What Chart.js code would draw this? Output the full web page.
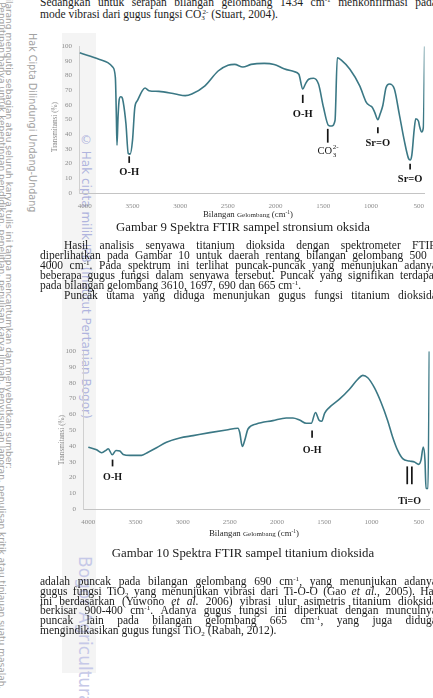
<!DOCTYPE html>
<html lang="id">
<head>
<meta charset="utf-8">
<title>Spektra FTIR</title>
<script src="https://cdn.jsdelivr.net/npm/chart.js@4.4.1/dist/chart.umd.min.js"></script>
<style>
  html, body { margin: 0; padding: 0; }
  body {
    width: 433px; height: 698px; overflow: hidden; position: relative;
    background: #fff; color: #1c1c1c;
    font-family: "Liberation Serif", "Times New Roman", serif;
  }
  .band { position: absolute; left: 62px; top: 33px; width: 34px; height: 640px; background: rgba(0,0,0,0.045); }
  .ln { position: absolute; font-size: 11.5px; line-height: 12px; height: 12px; white-space: nowrap; }
  .ln.j { display: flex; justify-content: space-between; }
  sup, sub { font-size: 0.62em; line-height: 0; position: relative; vertical-align: baseline; }
  sup { top: -0.5em; }
  sub { top: 0.3em; }
  .cap { position: absolute; font-size: 12.8px; white-space: nowrap; transform: translate(-50%, -50%); }
  .xt { position: absolute; font-size: 8.8px; color: #2a2a2a; white-space: nowrap; transform: translate(-50%, -50%); }
  .xt span { font-size: 7px; }
  .yt { position: absolute; font-size: 7.2px; color: #8a8a8a; white-space: nowrap; transform: translate(-50%, -50%) rotate(-90deg); }
  .wm { position: absolute; writing-mode: vertical-rl; white-space: nowrap; font-family: "DejaVu Sans", sans-serif; }
  .wm.g { color: #a2a2a2; font-size: 9px; line-height: 10px; }
  .wm.b { color: #b0b4de; }
  canvas { position: absolute; }
</style>
</head>
<body>
<div class="band"></div>

<div class="wm g" style="left:-3px; top:-9px;">a. Pengutipan hanya untuk kepentingan pendidikan, penelitian, penulisan karya ilmiah, penyusunan laporan, penulisan kritik atau tinjauan suatu masalah.</div>
<div class="wm g" style="left:4px; top:-20px;">1. Dilarang mengutip sebagian atau seluruh karya tulis ini tanpa mencantumkan dan menyebutkan sumber:</div>
<div class="wm g" style="left:27px; top:33px; font-size:9.6px;">Hak Cipta Dilindungi Undang-Undang</div>
<div class="wm b" style="left:80px; top:133px; font-size:12px; line-height:12px;">© Hak cipta milik IPB (Institut Pertanian Bogor)</div>
<div class="wm b" style="left:76px; top:556px; font-size:17px; line-height:18px; color:#c6c9e8;">Bogor Agricultural University</div>

<canvas id="sro" width="393" height="180" style="left:40px; top:35px;"></canvas>
<canvas id="tio" width="393" height="190" style="left:40px; top:340px;"></canvas>

<div class="yt" style="left:55px; top:127px;">Transmitansi (%)</div>
<div class="xt" style="left:248px; top:214px;">Bilangan <span>Gelombang</span> (cm<sup>-1</sup>)</div>
<div class="cap" style="left:243px; top:227px;">Gambar 9 Spektra FTIR sampel stronsium oksida</div>

<div class="yt" style="left:62px; top:440px;">Transmitansi (%)</div>
<div class="xt" style="left:254px; top:533px;">Bilangan <span>Gelombang</span> (cm<sup>-1</sup>)</div>
<div class="cap" style="left:243px; top:553px;">Gambar 10 Spektra FTIR sampel titanium dioksida</div>

<div id="text"></div>

<script>
// Gambar 9 - stronsium oksida (bilangan gelombang, transmitansi %)
const sroWave = [4052, 3845, 3758, 3707, 3679, 3669, 3662, 3651, 3638, 3624, 3610, 3596, 3568, 3544, 3524, 3499, 3475, 3448, 3396, 3368, 3327, 3223, 3050, 2947, 2878, 2740, 2602, 2498, 2429, 2343, 2257, 2119, 2015, 1912, 1808, 1756, 1715, 1688, 1653, 1602, 1550, 1498, 1446, 1412, 1377, 1353, 1308, 1221, 1118, 1049, 1014, 987, 962, 928, 904, 876, 842, 807, 755, 704, 652, 607, 590, 572, 548, 531, 503, 489, 469, 451, 437];
const sroTrans = [95.5, 91, 88.8, 85.8, 78.7, 54, 32.6, 51.7, 64, 65.6, 65.2, 61.8, 47.2, 27, 26.5, 36, 58.4, 62.9, 69.7, 71.5, 69.7, 69.2, 67.4, 66.3, 67.4, 73, 83.1, 87, 87.6, 85.8, 87.6, 88.3, 87.6, 84.7, 82.7, 80.9, 70.8, 74.2, 77.5, 78.2, 74.2, 58.4, 46.1, 45.6, 49.4, 92.1, 90.3, 84.3, 73, 61.8, 59.6, 58.4, 55.1, 49.9, 53.9, 59.6, 71.9, 74.2, 70.8, 53.9, 36, 23.6, 22.5, 25.8, 42.7, 50.6, 49, 44.9, 41.6, 44.9, 100];

// Gambar 10 - titanium dioksida
const tioWave = [4000, 3912, 3859, 3806, 3789, 3746, 3707, 3665, 3630, 3559, 3436, 3366, 3277, 3172, 3031, 2890, 2713, 2537, 2414, 2396, 2368, 2343, 2308, 2220, 2044, 1903, 1832, 1762, 1691, 1638, 1593, 1557, 1526, 1497, 1445, 1339, 1233, 1145, 1092, 1039, 969, 898, 828, 775, 722, 669, 598, 545, 500, 476, 451, 433, 422, 401, 387];
const tioTrans = [39.2, 37.5, 35.6, 37.5, 38.2, 34.4, 37.1, 36.7, 34.6, 34, 34, 36, 38.8, 42.3, 45, 46.5, 48.4, 50.1, 51.2, 48.6, 39.6, 43.4, 50.7, 53.9, 56, 57.7, 57.7, 56.4, 54.3, 54.3, 61.2, 56.4, 55.6, 60.6, 64.4, 69.6, 75.9, 82.2, 84.7, 83.2, 76.9, 67.5, 56, 45.5, 37.1, 31.9, 30.4, 29.8, 28.3, 30.8, 39.2, 30.8, 13, 13, 100];

const xTicks = [4000, 3500, 3000, 2500, 2000, 1500, 1000, 500];
const yTicks = [0, 10, 20, 30, 40, 50, 60, 70, 80, 90, 100];

// penanda gugus fungsi: bilangan gelombang, garis dari/ke (% T), posisi label (% T)
const sroMarks = [
  { text: 'O-H', bars: [3534], from: 25, to: 20.5, at: 14.2 },
  { text: 'O-H', bars: [1715], from: 66.9, to: 61.3, at: 53.9 },
  { text: 'CO', sub: '3', sup: '2-', bars: [1453], from: 43.7, to: 34.3, at: 28.6, light: true },
  { text: 'Sr=O', bars: [928], from: 44.8, to: 40.7, at: 34 },
  { text: 'Sr=O', bars: [590], from: 20, to: 16, at: 9.5 }
];
const tioMarks = [
  { text: 'O-H', bars: [3743], from: 31.3, to: 27, at: 20.3 },
  { text: 'O-H', bars: [1629], from: 49.7, to: 45.1, at: 37.1 },
  { text: 'Ti=O', bars: [621, 572], from: 27, to: 15.7, at: 4.6 }
];

const peakMarks = {
  id: 'peakMarks',
  afterDatasetsDraw(chart, args, opts) {
    const ctx = chart.ctx;
    const x = chart.scales.x, y = chart.scales.y;
    ctx.save();
    ctx.strokeStyle = '#161616';
    ctx.fillStyle = '#161616';
    ctx.lineWidth = 1.7;
    opts.marks.forEach(m => {
      m.bars.forEach(w => {
        const px = x.getPixelForValue(w);
        ctx.beginPath();
        ctx.moveTo(px, y.getPixelForValue(m.from));
        ctx.lineTo(px, y.getPixelForValue(m.to));
        ctx.stroke();
      });
      const mid = m.bars.reduce((a, b) => a + b, 0) / m.bars.length;
      const lx = x.getPixelForValue(mid);
      const ly = y.getPixelForValue(m.at);
      const weight = m.light ? '' : 'bold ';
      ctx.font = weight + opts.size + 'px "Liberation Serif"';
      ctx.textBaseline = 'middle';
      if (!m.sub) {
        ctx.textAlign = 'center';
        ctx.fillText(m.text, lx, ly);
        return;
      }
      const w1 = ctx.measureText(m.text).width;
      const small = weight + Math.round(opts.size * 0.62) + 'px "Liberation Serif"';
      ctx.font = small;
      const w2 = Math.max(ctx.measureText(m.sub).width, ctx.measureText(m.sup).width);
      const x0 = lx - (w1 + w2) / 2;
      ctx.textAlign = 'left';
      ctx.font = weight + opts.size + 'px "Liberation Serif"';
      ctx.fillText(m.text, x0, ly);
      ctx.font = small;
      ctx.fillText(m.sub, x0 + w1 + 0.5, ly + 4);
      ctx.fillText(m.sup, x0 + w1 + 0.5, ly - 4);
    });
    ctx.restore();
  }
};

function spectrum(id, waves, trans, marks, range, yWidth, xHeight, labelSize) {
  const points = waves.map((w, i) => ({ x: w, y: trans[i] }));
  return new Chart(document.getElementById(id), {
    type: 'line',
    data: {
      datasets: [{
        data: points,
        borderColor: '#3b7885',
        borderWidth: 1.6,
        pointRadius: 0,
        cubicInterpolationMode: 'monotone',
        fill: false
      }]
    },
    options: {
      responsive: false,
      animation: false,
      layout: { padding: { top: 10, right: 3, left: 0, bottom: 0 } },
      plugins: {
        legend: { display: false },
        tooltip: { enabled: false },
        peakMarks: { marks: marks, size: labelSize }
      },
      scales: {
        x: {
          type: 'linear',
          reverse: true,
          min: range[0],
          max: range[1],
          afterBuildTicks: s => { s.ticks = xTicks.map(v => ({ value: v })); },
          afterFit: s => { s.height = xHeight; },
          grid: { display: false, drawTicks: false },
          border: { display: true, color: '#c4c4c4', width: 1 },
          ticks: {
            padding: 9, color: '#8c8c8c',
            font: { family: '"Liberation Serif"', size: 7 },
            callback: v => String(v)
          }
        },
        y: {
          min: 0,
          max: 100,
          afterBuildTicks: s => { s.ticks = yTicks.map(v => ({ value: v })); },
          afterFit: s => { s.width = yWidth; },
          grid: { display: false, drawTicks: false },
          border: { display: true, color: '#d0d0d0', width: 1 },
          ticks: {
            padding: 7, color: '#8c8c8c',
            font: { family: '"Liberation Serif"', size: 7 },
            callback: v => String(v)
          }
        }
      }
    },
    plugins: [peakMarks]
  });
}

spectrum('sro', sroWave, sroTrans, sroMarks, [440, 4060], 39, 22, 10.5);
spectrum('tio', tioWave, tioTrans, tioMarks, [384, 4056], 43, 21, 10);

// teks halaman
const textLines = [
  { y: 2, left: 40, j: true, html: 'Sedangkan untuk serapan bilangan gelombang 1434 cm<sup>-1</sup> menkonfirmasi pada' },
  { y: 14, left: 40, j: false, html: 'mode vibrasi dari gugus fungsi CO<sub>3</sub><sup style="margin-left:-0.35em">2-</sup> (Stuart, 2004).' },
  { y: 245, left: 64, j: true, html: 'Hasil analisis senyawa titanium dioksida dengan spektrometer FTIR' },
  { y: 255, left: 40, j: true, html: 'diperlihatkan pada Gambar 10 untuk daerah rentang bilangan gelombang 500 -' },
  { y: 265, left: 40, j: true, html: '4000 cm<sup>-1</sup>. Pada spektrum ini terlihat puncak-puncak yang menunjukan adanya' },
  { y: 275, left: 40, j: true, html: 'beberapa gugus fungsi dalam senyawa tersebut. Puncak yang signifikan terdapat' },
  { y: 285, left: 40, j: false, html: 'pada bilangan gelombang 3610, 1697, 690 dan 665 cm<sup>-1</sup>.' },
  { y: 295, left: 64, j: true, html: 'Puncak utama yang diduga menunjukan gugus fungsi titanium dioksida' },
  { y: 581, left: 40, j: true, html: 'adalah puncak pada bilangan gelombang 690 cm<sup>-1</sup>, yang menunjukan adanya' },
  { y: 591, left: 40, j: true, html: 'gugus fungsi TiO<sub>2</sub> yang menunjukan vibrasi dari Ti-O-O (Gao <i>et</i> <i>al.</i>, 2005). Hal' },
  { y: 600.5, left: 40, j: true, html: 'ini berdasarkan (Yuwono <i>et</i> <i>al.</i> 2006) vibrasi ulur asimetris titanium dioksida' },
  { y: 610, left: 40, j: true, html: 'berkisar 900-400 cm<sup>-1</sup>. Adanya gugus fungsi ini diperkuat dengan munculnya' },
  { y: 620, left: 40, j: true, html: 'puncak lain pada bilangan gelombang 665 cm<sup>-1</sup>, yang juga diduga' },
  { y: 629.5, left: 40, j: false, html: 'mengindikasikan gugus fungsi TiO<sub>2</sub> (Rabah, 2012).' }
];

const box = document.getElementById('text');
textLines.forEach(l => {
  const div = document.createElement('div');
  div.className = l.j ? 'ln j' : 'ln';
  div.style.top = (l.y - 6) + 'px';
  div.style.left = l.left + 'px';
  if (l.j) {
    div.style.width = (437 - l.left) + 'px';
    div.innerHTML = l.html.split(/\s+/).map(w => '<span>' + w + '</span>').join('');
  } else {
    div.innerHTML = l.html;
  }
  box.appendChild(div);
});
</script>
</body>
</html>
